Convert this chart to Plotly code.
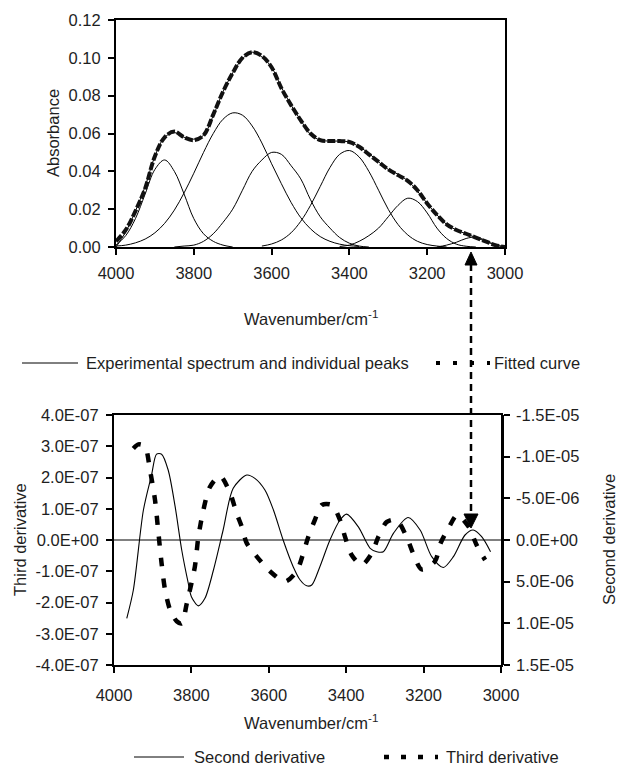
import plotly.graph_objects as go

W, H = 620, 765
def px(x): return x / W
def py(y): return 1 - y / H

# ---------------- top chart data ----------------
wn = [4000, 3975, 3950, 3925, 3900, 3875, 3850, 3825, 3800, 3775, 3750, 3725, 3700, 3675,
      3650, 3625, 3600, 3575, 3550, 3525, 3500, 3475, 3450, 3425, 3400, 3375, 3350, 3325,
      3300, 3275, 3250, 3225, 3200, 3175, 3150, 3125, 3100, 3075, 3050, 3025, 3000]
fitted = [0.003, 0.009, 0.019, 0.031, 0.048, 0.058, 0.061, 0.058, 0.0565, 0.059, 0.070, 0.082,
          0.092, 0.100, 0.103, 0.101, 0.095, 0.084, 0.075, 0.067, 0.060, 0.0565, 0.056, 0.056,
          0.0555, 0.053, 0.049, 0.045, 0.041, 0.038, 0.035, 0.030, 0.023, 0.017, 0.012, 0.009,
          0.007, 0.005, 0.003, 0.001, 0.0]
experimental = [0.000, 0.008, 0.019, 0.032, 0.048, 0.058, 0.0605, 0.058, 0.057, 0.059, 0.0695, 0.082,
                0.092, 0.0995, 0.103, 0.1005, 0.095, 0.0845, 0.075, 0.067, 0.0595, 0.0565, 0.056, 0.056,
                0.0555, 0.053, 0.0495, 0.045, 0.041, 0.0385, 0.035, 0.0295, 0.023, 0.017, 0.012, 0.009,
                0.007, 0.005, 0.003, 0.001, 0.0]

peak1_wn = [4000, 3975, 3950, 3925, 3900, 3875, 3850, 3825, 3800, 3775, 3750, 3725, 3700]
peak1 = [0.001, 0.006, 0.015, 0.028, 0.041, 0.046, 0.040, 0.028, 0.015, 0.007, 0.003, 0.001, 0.000]

peak2_wn = [4000, 3975, 3950, 3925, 3900, 3875, 3850, 3825, 3800, 3775, 3750, 3725, 3700, 3675,
            3650, 3625, 3600, 3575, 3550, 3525, 3500, 3475, 3450, 3425, 3400, 3375]
peak2 = [0.0005, 0.001, 0.0022, 0.0042, 0.0075, 0.0125, 0.0195, 0.0286, 0.039, 0.050, 0.060, 0.0675,
         0.0709, 0.0697, 0.064, 0.055, 0.044, 0.0335, 0.0236, 0.0155, 0.0096, 0.0055, 0.003, 0.0015,
         0.0007, 0.0003]

peak3_wn = [3850, 3825, 3800, 3775, 3750, 3725, 3700, 3675, 3650, 3625, 3600, 3575, 3550, 3525,
            3500, 3475, 3450, 3425, 3400, 3375, 3350]
peak3 = [0.0, 0.0005, 0.001, 0.003, 0.007, 0.013, 0.020, 0.030, 0.040, 0.046, 0.050, 0.049, 0.043,
         0.036, 0.025, 0.016, 0.010, 0.005, 0.002, 0.0005, 0.0]

peak4_wn = [3625, 3600, 3575, 3550, 3525, 3500, 3475, 3450, 3425, 3400, 3375, 3350, 3325, 3300,
            3275, 3250, 3225, 3200, 3175, 3150]
peak4 = [0.0005, 0.0016, 0.0037, 0.0075, 0.0136, 0.022, 0.032, 0.042, 0.049, 0.051, 0.0476, 0.040,
         0.030, 0.0199, 0.0119, 0.0064, 0.003, 0.0013, 0.0005, 0.0]

peak5_wn = [3425, 3400, 3375, 3350, 3325, 3300, 3275, 3250, 3225, 3200, 3175, 3150, 3125, 3100, 3075]
peak5 = [0.0003, 0.001, 0.003, 0.006, 0.010, 0.016, 0.022, 0.0258, 0.024, 0.018, 0.010, 0.0045,
         0.0015, 0.0004, 0.0]

peak6_wn = [3175, 3150, 3125, 3100, 3075, 3050, 3025, 3000]
peak6 = [0.0, 0.001, 0.0025, 0.0045, 0.0052, 0.0035, 0.0012, 0.0002]

# ---------------- bottom chart data ----------------
second_wn = [3967, 3950, 3924, 3903, 3890, 3877, 3860, 3842, 3825, 3808, 3800, 3782, 3765, 3743,
             3718, 3692, 3657, 3636, 3610, 3588, 3563, 3537, 3519, 3502, 3489, 3468, 3442, 3416,
             3399, 3369, 3338, 3321, 3304, 3278, 3240, 3209, 3179, 3149, 3123, 3093, 3072, 3050, 3027]
second_deriv = [9.4e-6, 6.0e-6, -3.6e-6, -7.8e-6, -10.3e-6, -10.3e-6, -8.4e-6, -4.0e-6, 1.2e-6,
                5.2e-6, 6.8e-6, 7.9e-6, 7.0e-6, 3.6e-6, -1.2e-6, -6.2e-6, -7.8e-6, -7.4e-6, -6.0e-6,
                -3.6e-6, 0.0, 3.2e-6, 4.8e-6, 5.5e-6, 5.4e-6, 3.2e-6, 0.0, -2.4e-6, -3.1e-6, -1.6e-6,
                1.0e-6, 1.4e-6, 1.4e-6, -0.8e-6, -2.7e-6, -1.2e-6, 2.0e-6, 3.3e-6, 2.0e-6, -0.6e-6,
                -1.2e-6, -0.4e-6, 1.4e-6]

third_wn = [3950, 3937, 3920, 3907, 3894, 3886, 3877, 3868, 3855, 3838, 3825, 3812, 3791, 3782,
            3769, 3752, 3726, 3700, 3683, 3670, 3657, 3631, 3597, 3558, 3528, 3511, 3498, 3481,
            3463, 3437, 3416, 3403, 3386, 3360, 3334, 3317, 3295, 3270, 3244, 3227, 3205, 3171,
            3156, 3136, 3113, 3084, 3063, 3041]
third_deriv = [2.93e-7, 3.06e-7, 2.99e-7, 2.24e-7, 1.28e-7, 0.32e-7, -0.75e-7, -1.6e-7, -2.24e-7,
               -2.6e-7, -2.67e-7, -2.03e-7, -0.85e-7, 0.1e-7, 0.96e-7, 1.7e-7, 2.05e-7, 1.5e-7,
               0.85e-7, 0.43e-7, -0.1e-7, -0.53e-7, -1.0e-7, -1.33e-7, -1.0e-7, -0.43e-7, 0.1e-7,
               0.64e-7, 1.12e-7, 1.12e-7, 0.64e-7, 0.1e-7, -0.48e-7, -0.8e-7, -0.43e-7, 0.1e-7,
               0.58e-7, 0.64e-7, 0.1e-7, -0.43e-7, -0.94e-7, -0.69e-7, -0.1e-7, 0.37e-7, 0.8e-7,
               0.43e-7, -0.16e-7, -0.64e-7]

# ---------------- tick labels ----------------
x_tickvals = [4000, 3800, 3600, 3400, 3200, 3000]
x_ticktext = ["4000", "3800", "3600", "3400", "3200", "3000"]
abs_tickvals = [0.0, 0.02, 0.04, 0.06, 0.08, 0.10, 0.12]
third_tickvals = [-4e-7, -3e-7, -2e-7, -1e-7, 0, 1e-7, 2e-7, 3e-7, 4e-7]
third_ticktext = ["-4.0E-07", "-3.0E-07", "-2.0E-07", "-1.0E-07", "0.0E+00",
                  "1.0E-07", "2.0E-07", "3.0E-07", "4.0E-07"]
second_tickvals = [-1.5e-5, -1.0e-5, -5e-6, 0, 5e-6, 1.0e-5, 1.5e-5]
second_ticktext = ["-1.5E-05", "-1.0E-05", "-5.0E-06", "0.0E+00", "5.0E-06", "1.0E-05", "1.5E-05"]

FONT = "Liberation Sans, Arial, sans-serif"
FS = 16.5
TXT = "#1e1e1e"

fig = go.Figure()

fig.add_trace(go.Scatter(x=wn, y=experimental, mode="lines", line=dict(color="black", width=1, shape="spline"),
                         xaxis="x", yaxis="y", showlegend=False))
for pw, pv in [(peak1_wn, peak1), (peak2_wn, peak2), (peak3_wn, peak3), (peak4_wn, peak4),
               (peak5_wn, peak5), (peak6_wn, peak6)]:
    fig.add_trace(go.Scatter(x=pw, y=pv, mode="lines", line=dict(color="black", width=1, shape="spline"),
                             xaxis="x", yaxis="y", showlegend=False))
fig.add_trace(go.Scatter(x=wn, y=fitted, mode="lines",
                         line=dict(color="#111", width=4, dash="8px,2px", shape="spline"),
                         xaxis="x", yaxis="y", showlegend=False))

fig.add_trace(go.Scatter(x=second_wn, y=second_deriv, mode="lines",
                         line=dict(color="black", width=1.1, shape="spline", smoothing=0.8),
                         xaxis="x2", yaxis="y3", showlegend=False))
fig.add_trace(go.Scatter(x=third_wn, y=third_deriv, mode="lines",
                         line=dict(color="black", width=4.5, dash="9px,12px", shape="spline", smoothing=0.8),
                         xaxis="x2", yaxis="y2", showlegend=False))

axis_common = dict(showgrid=False, showline=True, linecolor="black", linewidth=2, ticks="outside",
                   ticklen=6, tickwidth=1.5, tickcolor="black", mirror=True, automargin=False,
                   tickfont=dict(family=FONT, size=FS, color=TXT))

fig.update_layout(
    width=W, height=H, margin=dict(l=0, r=0, t=0, b=0, pad=0), autosize=False,
    paper_bgcolor="white", plot_bgcolor="white",
    font=dict(family=FONT, size=FS, color=TXT),
    xaxis=dict(domain=[px(116), px(505)], range=[4000, 3000], anchor="y",
               tickvals=x_tickvals, ticktext=x_ticktext, ticklabelstandoff=4, zeroline=False, **axis_common),
    yaxis=dict(domain=[py(247), py(20)], range=[0, 0.12], anchor="x",
               tickvals=abs_tickvals, tickformat=".2f", ticklabelstandoff=4, zeroline=False, **axis_common),
    xaxis2=dict(domain=[px(114), px(501)], range=[4000, 3000], anchor="y2",
                tickvals=x_tickvals, ticktext=x_ticktext, ticklabelstandoff=8, zeroline=False, **axis_common),
    yaxis2=dict(domain=[py(665), py(415)], range=[-4e-7, 4e-7], anchor="x2",
                tickvals=third_tickvals, ticktext=third_ticktext, ticklabelstandoff=4,
                zeroline=True, zerolinecolor="#808080", zerolinewidth=2, **axis_common),
    yaxis3=dict(overlaying="y2", side="right", anchor="x2", range=[1.5e-5, -1.5e-5],
                tickvals=second_tickvals, ticktext=second_ticktext, ticklabelstandoff=3,
                zeroline=False, showgrid=False, showline=True, linecolor="black", linewidth=2.5,
                ticks="outside", ticklen=6, tickwidth=1.5, tickcolor="black", automargin=False,
                tickfont=dict(family=FONT, size=FS, color=TXT)),
)

def ann(text, x, y, xanchor="center", angle=0):
    fig.add_annotation(text=text, x=px(x), y=py(y), xref="paper", yref="paper", showarrow=False,
                       xanchor=xanchor, yanchor="middle", textangle=angle,
                       font=dict(family=FONT, size=FS, color=TXT))

ann("Absorbance", 53, 133, angle=-90)
ann("Wavenumber/cm<sup>-1</sup>", 311, 318)
ann("Third derivative", 20, 540, angle=-90)
ann("Second derivative", 609, 540, angle=-90)
ann("Wavenumber/cm<sup>-1</sup>", 311, 722)

# legends
ann("Experimental spectrum and individual peaks", 84, 363, xanchor="left")
ann("Fitted curve", 492, 363, xanchor="left")
ann("Second derivative", 192, 757, xanchor="left")
ann("Third derivative", 444, 757, xanchor="left")

def seg(x0, y0, x1, y1, width, dash="solid"):
    fig.add_shape(type="line", xref="paper", yref="paper", x0=px(x0), y0=py(y0), x1=px(x1), y1=py(y1),
                  line=dict(color="black", width=width, dash=dash), layer="above")

seg(22, 363, 78, 363, 1)
seg(436, 363, 490, 363, 4, "4px,13px")
seg(134, 757, 184, 757, 1)
seg(384, 757, 438, 757, 4.5, "5px,12px")

# vertical correspondence arrow
AX = 471
seg(AX, 264, AX, 514, 2.5, "7px,5px")
fig.add_shape(type="path", xref="paper", yref="paper",
              path=f"M {px(AX)} {py(252)} L {px(AX-6)} {py(265)} L {px(AX+6)} {py(265)} Z",
              fillcolor="black", line=dict(color="black", width=1), layer="above")
fig.add_shape(type="path", xref="paper", yref="paper",
              path=f"M {px(AX)} {py(528)} L {px(AX-7)} {py(514)} L {px(AX+7)} {py(514)} Z",
              fillcolor="black", line=dict(color="black", width=1), layer="above")

# remove the page's default body margin so the figure fills the window exactly
fig.write_html("out.html", config={"displayModeBar": False},
               post_script="document.body.style.margin='0';document.body.style.overflow='hidden';")
